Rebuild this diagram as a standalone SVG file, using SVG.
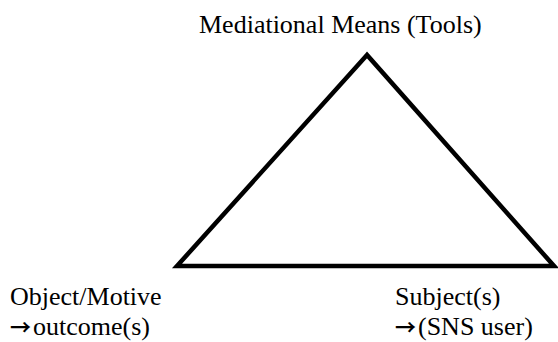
<svg xmlns="http://www.w3.org/2000/svg" width="558" height="342" viewBox="0 0 558 342">
<style>
text{font-family:"Liberation Serif","Times New Roman",serif;font-size:26px;fill:#000}
.arr{font-family:"Noto Sans CJK SC","DejaVu Sans",sans-serif;font-weight:bold;font-size:21px}
.tri{fill:none;stroke:#000;stroke-width:4.5;stroke-linejoin:miter}
</style>
<rect width="558" height="342" fill="#fff"/>
<g id="connectors">
<polygon class="tri" points="367,55 177,266 554,266"/>
</g>
<g id="node-tools"><text x="199" y="33">Mediational Means (Tools)</text></g>
<g id="node-object"><text x="10" y="305">Object/Motive</text><text x="10" y="335"><tspan class="arr">→</tspan><tspan dx="2">outcome(s)</tspan></text></g>
<g id="node-subject"><text x="395" y="305">Subject(s)</text><text x="395" y="335"><tspan class="arr">→</tspan><tspan dx="2">(SNS user)</tspan></text></g>
</svg>
